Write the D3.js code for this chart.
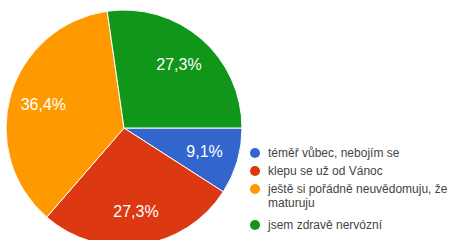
<!DOCTYPE html>
<html>
<head>
<meta charset="utf-8">
<script src="https://cdn.jsdelivr.net/npm/d3@7"></script>
<style>
  body { margin: 0; background: #fff; }
  svg { display: block; }
</style>
</head>
<body>
<div id="chart"></div>
<script>
// answers in legend order, clockwise from 3 o'clock
const categories = ["téměř vůbec, nebojím se", "klepu se už od Vánoc", "ještě si pořádně neuvědomuju, že maturuju", "jsem zdravě nervózní"];
const legendLines = [["téměř vůbec, nebojím se"], ["klepu se už od Vánoc"], ["ještě si pořádně neuvědomuju, že", "maturuju"], ["jsem zdravě nervózní"]];
const counts = [1, 3, 4, 3];
const labels = ["9,1%", "27,3%", "36,4%", "27,3%"];
const colors = ["#3366cc", "#dc3912", "#ff9900", "#109618"];

const width = 454, height = 240;
const cx = 124, cy = 128, radius = 118;

const svg = d3.select("#chart")
  .append("svg")
    .attr("width", width)
    .attr("height", height);

const g = svg.append("g")
    .attr("transform", `translate(${cx},${cy})`);

const pie = d3.pie()
    .sort(null)
    .value(d => d)
    .startAngle(Math.PI / 2)
    .endAngle(Math.PI / 2 + 2 * Math.PI);

const arcs = pie(counts);

const arc = d3.arc().innerRadius(0).outerRadius(radius);
const labelArc = d3.arc().innerRadius(84).outerRadius(84);

g.selectAll("path.slice")
  .data(arcs)
  .join("path")
    .attr("class", "slice")
    .attr("d", arc)
    .attr("fill", (d, i) => colors[i])
    .attr("stroke", "#fff")
    .attr("stroke-width", 1);

g.selectAll("text.lbl")
  .data(arcs)
  .join("text")
    .attr("class", "lbl")
    .attr("transform", d => `translate(${labelArc.centroid(d)})`)
    .attr("text-anchor", "middle")
    .attr("dy", "0.36em")
    .style("font-family", "'Liberation Sans', Arial, sans-serif")
    .style("font-size", "16px")
    .style("fill", "#fff")
    .text((d, i) => labels[i]);

// legend
const legend = svg.append("g").attr("transform", "translate(255,153)");
let row = 0;
categories.forEach((c, i) => {
  const item = legend.append("g").attr("transform", `translate(0,${row * 18})`);
  item.append("circle")
      .attr("r", 5)
      .attr("fill", colors[i]);
  const t = item.append("text")
      .attr("x", 13)
      .attr("dy", "0.35em")
      .style("font-family", "'Liberation Sans', Arial, sans-serif")
      .style("font-size", "12px")
      .style("fill", "#444");
  legendLines[i].forEach((line, j) => {
    t.append("tspan").attr("x", 13).attr("y", j * 18).text(line);
  });
  row += legendLines[i].length;
});
</script>
</body>
</html>
